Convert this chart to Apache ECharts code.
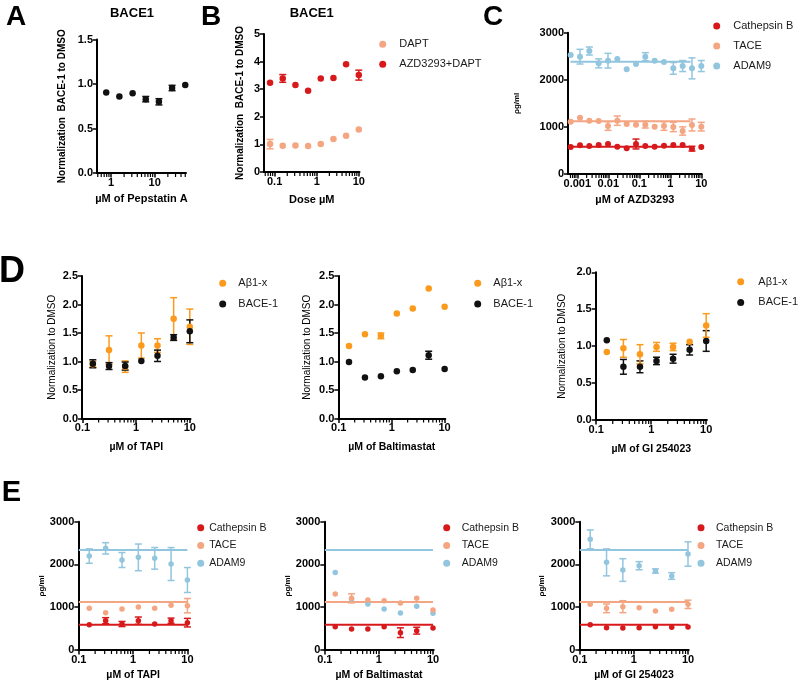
<!DOCTYPE html>
<html lang="en">
<head>
    <meta charset="UTF-8">
    <title>BACE1 / protease panels</title>
    <script src="https://cdn.jsdelivr.net/npm/echarts@6/dist/echarts.min.js"></script>
    <style>body{margin:0;background:#fff;}</style>
</head>
<body>
    <div id="main" style="width:800px;height:682px;"></div>
    <script type="text/javascript">
        // ---- data ----
        // A: Pepstatin A
        var pepDose = [0.78, 1.56, 3.13, 6.25, 12.5, 25, 50];
        var pepBace = [0.905, 0.86, 0.895, 0.83, 0.80, 0.955, 0.99];
        var pepBaceErr = [0, 0, 0, 0.03, 0.035, 0.03, 0];

        // B: DAPT
        var daptDose = [0.078, 0.156, 0.3125, 0.625, 1.25, 2.5, 5, 10];
        var dapt = [1.01, 0.95, 0.96, 0.94, 1.01, 1.20, 1.31, 1.54];
        var daptErr = [0.17, 0, 0, 0, 0, 0, 0, 0];
        var azdDapt = [3.23, 3.39, 3.15, 2.94, 3.39, 3.41, 3.90, 3.51];
        var azdDaptErr = [0, 0.14, 0, 0, 0, 0, 0, 0.18];

        // C: AZD3293
        var azdDose = [0.00061, 0.00122, 0.00244, 0.00488, 0.00977, 0.0195, 0.0391, 0.0781, 0.156, 0.3125, 0.625, 1.25, 2.5, 5, 10];
        var azdCath = [573, 609, 594, 616, 637, 580, 545, 637, 594, 580, 601, 616, 616, 538, 573];
        var azdCathErr = [0, 0, 0, 0, 0, 0, 0, 105, 0, 0, 0, 0, 0, 50, 0];
        var azdTace = [1111, 1196, 1132, 1125, 1019, 1132, 1061, 1047, 1047, 1005, 1019, 998, 913, 1040, 1005];
        var azdTaceErr = [0, 0, 0, 0, 92, 99, 0, 0, 71, 0, 92, 99, 88, 127, 92];
        var azdAdam = [2526, 2491, 2611, 2349, 2406, 2441, 2222, 2335, 2491, 2406, 2377, 2243, 2292, 2243, 2292];
        var azdAdamErr = [0, 156, 85, 95, 156, 0, 0, 0, 85, 0, 0, 124, 117, 223, 117];
        var fitSpanC = [0.0006, 4.5];
        var fitLevelsC = [580, 1118, 2384];   // Cathepsin B, TACE, ADAM9

        // D and E share the dose series
        var inhDose = [0.156, 0.3125, 0.625, 1.25, 2.5, 5, 10];

        // D: normalized Abeta / BACE-1
        var tapiAb = [0.95, 1.20, 0.91, 1.28, 1.28, 1.75, 1.61];
        var tapiAbErr = [0.05, 0.25, 0.10, 0.22, 0.12, 0.37, 0.31];
        var tapiBace = [0.96, 0.92, 0.92, 1.01, 1.10, 1.42, 1.53];
        var tapiBaceErr = [0.07, 0.06, 0.07, 0, 0.10, 0.05, 0.20];
        var baltAb = [1.27, 1.48, 1.45, 1.84, 1.93, 2.28, 1.96];
        var baltAbErr = [0, 0, 0.05, 0, 0, 0, 0];
        var baltBace = [0.99, 0.72, 0.74, 0.83, 0.85, 1.11, 0.87];
        var baltBaceErr = [0, 0, 0, 0, 0, 0.07, 0];
        var giAb = [0.92, 0.97, 0.89, 0.99, 0.99, 1.06, 1.28];
        var giAbErr = [0, 0.12, 0.13, 0.06, 0.05, 0, 0.16];
        var giBace = [1.08, 0.72, 0.72, 0.80, 0.83, 0.95, 1.07];
        var giBaceErr = [0, 0.10, 0.08, 0.05, 0.06, 0.07, 0.14];

        // E: pg/ml
        var tapiCath = [592, 686, 608, 686, 608, 686, 639];
        var tapiCathErr = [0, 70, 60, 85, 0, 60, 100];
        var tapiTace = [974, 873, 958, 1005, 974, 1044, 1036];
        var tapiTaceErr = [0, 0, 0, 0, 0, 0, 167];
        var tapiAdam = [2197, 2377, 2104, 2166, 2143, 2010, 1636];
        var tapiAdamErr = [168, 132, 175, 312, 253, 385, 292];
        var baltCath = [545, 491, 491, 545, 405, 452, 514];
        var baltCathErr = [0, 0, 0, 0, 113, 80, 0];
        var baltTace = [1309, 1208, 1169, 1153, 1099, 1208, 935];
        var baltTaceErr = [0, 105, 0, 0, 0, 0, 0];
        var baltAdam = [1815, 1190, 1075, 958, 865, 1021, 857];
        var baltAdamErr = [0, 0, 0, 0, 0, 0, 0];
        var giCath = [592, 522, 514, 522, 545, 530, 538];
        var giCathErr = [0, 0, 0, 0, 0, 0, 0];
        var giTace = [1068, 974, 1013, 990, 912, 951, 1068];
        var giTaceErr = [0, 101, 140, 0, 0, 0, 97];
        var giAdam = [2587, 2049, 1870, 1971, 1847, 1730, 2244];
        var giAdamErr = [220, 315, 265, 95, 50, 78, 284];
        var fitSpanE = [0.1, 10];
        var fitLevelsE = [590, 1125, 2338];

        var RED = '#d7191c', SALMON = '#f4a582', BLUE = '#92c5de', ORANGE = '#fb9a1c', BLACK = '#111';
        var FONT = '"Liberation Sans", Arial, sans-serif';

        // ---- panel layout ----
        var panels = [
            {box: [97, 39.5, 89, 133.5],     x: [0.48, 52],     y: [1.5, 0.5], dec: 1, xName: 'µM of Pepstatin A', xGap: 20, yName: 'Normalization  BACE-1 to DMSO', yGap: 30, yBold: true, yFs: 10},
            {box: [264, 34, 95.5, 138],      x: [0.056, 10.4],  y: [5, 1], dec: 0, xName: 'Dose µM', xGap: 22, yName: 'Normalization  BACE-1 to DMSO', yGap: 19, yBold: true, yFs: 10},
            {box: [568, 32.7, 133.7, 141.3], x: [0.0005, 10.3], y: [3000, 1000], dec: 0, xName: 'µM of AZD3293', xGap: 20, yName: 'ρg/ml', yGap: 47, yBold: true, yFs: 8},
            {box: [82, 276, 108.5, 142.5],   x: [0.098, 10.3],  y: [2.5, 0.5], dec: 1, xName: 'µM of TAPI', xGap: 23, yName: 'Normalization to DMSO', yGap: 25, yBold: false, yFs: 10},
            {box: [338.3, 276, 107, 142.5],  x: [0.098, 10.3],  y: [2.5, 0.5], dec: 1, xName: 'µM of Baltimastat', xGap: 23, yName: 'Normalization to DMSO', yGap: 26, yBold: false, yFs: 10},
            {box: [595.7, 272.3, 111.2, 147.7], x: [0.098, 10.3], y: [2.0, 0.5], dec: 1, xName: 'µM of GI 254023', xGap: 24, yName: 'Normalization to DMSO', yGap: 28, yBold: false, yFs: 10},
            {box: [78.3, 521.7, 109.8, 128.3],  x: [0.098, 10.3], y: [3000, 1000], dec: 0, xName: 'µM of TAPI', xGap: 20, yName: 'ρg/ml', yGap: 29.5, yBold: true, yFs: 8},
            {box: [324.3, 521.7, 109.4, 128.3], x: [0.098, 10.3], y: [3000, 1000], dec: 0, xName: 'µM of Baltimastat', xGap: 20, yName: 'ρg/ml', yGap: 32, yBold: true, yFs: 8},
            {box: [579.3, 521.7, 109.4, 128.3], x: [0.098, 10.3], y: [3000, 1000], dec: 0, xName: 'µM of GI 254023', xGap: 20, yName: 'ρg/ml', yGap: 33.5, yBold: true, yFs: 8}
        ];
        var N = panels.length;

        function decades(r) {
            var out = [];
            for (var e = Math.floor(Math.log10(r[0])); e <= Math.ceil(Math.log10(r[1])); e++) {
                var v = +Math.pow(10, e).toPrecision(1);
                if (v >= r[0] && v <= r[1]) out.push(v);
            }
            return out;
        }
        function minorTicks(r) {
            var out = [];
            for (var e = Math.floor(Math.log10(r[0])); e <= Math.ceil(Math.log10(r[1])); e++) {
                for (var m = 2; m <= 9; m++) {
                    var v = +(m * Math.pow(10, e)).toPrecision(2);
                    if (v > r[0] && v < r[1]) out.push(v);
                }
            }
            return out;
        }
        function fmtLog(v) { return String(+(+v).toPrecision(3)); }

        var grids = [], xAxes = [], yAxes = [];
        panels.forEach(function (p, i) {
            grids.push({left: p.box[0], top: p.box[1], width: p.box[2], height: p.box[3], containLabel: false, outerBoundsMode: 'none'});
            xAxes.push({
                type: 'log', gridIndex: i, min: p.x[0], max: p.x[1], position: 'bottom',
                name: p.xName, nameLocation: 'middle', nameGap: p.xGap,
                nameTextStyle: {color: '#000', fontFamily: FONT, fontWeight: 'bold', fontSize: i < 3 ? 11 : 10.5},
                axisLine: {onZero: false, lineStyle: {color: '#000', width: 2}},
                axisTick: {customValues: decades(p.x), length: 4.5, lineStyle: {color: '#000', width: 1.5}},
                axisLabel: {customValues: decades(p.x), formatter: fmtLog, margin: 4, color: '#000', fontFamily: FONT, fontWeight: 'bold', fontSize: 11},
                splitLine: {show: false}
            });
            yAxes.push({
                type: 'value', gridIndex: i, min: 0, max: p.y[0], interval: p.y[1],
                name: p.yName, nameLocation: 'middle', nameGap: p.yGap,
                nameTextStyle: {color: '#000', fontFamily: FONT, fontWeight: p.yBold ? 'bold' : 'normal', fontSize: p.yFs},
                axisLine: {show: true, onZero: false, lineStyle: {color: '#000', width: 2}},
                axisTick: {show: true, length: 4, lineStyle: {color: '#000', width: 1.5}},
                axisLabel: {margin: 4, color: '#000', fontFamily: FONT, fontWeight: 'bold', fontSize: 11,
                    formatter: (function (d) { return function (v) { return v.toFixed(d); }; })(p.dec)},
                splitLine: {show: false}
            });
        });
        // thin strip under each plot, sharing its log x scale, to hold the log minor ticks
        panels.forEach(function (p, i) {
            grids.push({left: p.box[0], top: p.box[1] + p.box[3], width: p.box[2], height: 6, containLabel: false, outerBoundsMode: 'none'});
            xAxes.push({type: 'log', gridIndex: N + i, min: p.x[0], max: p.x[1], show: false});
            yAxes.push({type: 'value', gridIndex: N + i, min: 0, max: 1, show: false});
        });

        function pairs(xs, ys) { return xs.map(function (x, k) { return [x, ys[k]]; }); }
        function errRows(xs, ys, es) {
            var out = [];
            xs.forEach(function (x, k) { if (es[k] > 0) out.push([x, ys[k] - es[k], ys[k] + es[k]]); });
            return out;
        }
        function errBar(params, api) {
            var x = api.value(0);
            var lo = api.coord([x, api.value(1)]);
            var hi = api.coord([x, api.value(2)]);
            var c = 3.5;
            var st = {stroke: api.visual('color'), lineWidth: 1.5};
            return {type: 'group', children: [
                {type: 'line', shape: {x1: lo[0], y1: lo[1], x2: hi[0], y2: hi[1]}, style: st},
                {type: 'line', shape: {x1: lo[0] - c, y1: lo[1], x2: lo[0] + c, y2: lo[1]}, style: st},
                {type: 'line', shape: {x1: hi[0] - c, y1: hi[1], x2: hi[0] + c, y2: hi[1]}, style: st}
            ]};
        }
        function minorTick(params, api) {
            var p = api.coord([api.value(0), api.value(1)]);
            return {type: 'group', children: [
                {type: 'line', shape: {x1: p[0], y1: p[1], x2: p[0], y2: p[1] + 4},
                    style: {stroke: api.visual('color'), lineWidth: 1.2}}
            ]};
        }

        var series = [];
        panels.forEach(function (p, i) {
            series.push({type: 'custom', name: 'minor ticks', xAxisIndex: N + i, yAxisIndex: N + i, silent: true,
                renderItem: minorTick, itemStyle: {color: '#000'}, encode: {x: 0, y: [1, 2]},
                data: minorTicks(p.x).map(function (v) { return [v, 1, 1]; })});
        });
        function addPoints(i, name, color, xs, ys, es, size) {
            series.push({type: 'custom', name: name + ' err', xAxisIndex: i, yAxisIndex: i, renderItem: errBar,
                itemStyle: {color: color}, encode: {x: 0, y: [1, 2]}, data: errRows(xs, ys, es), z: 2, silent: true});
            series.push({type: 'scatter', name: name, xAxisIndex: i, yAxisIndex: i, symbol: 'circle', symbolSize: size,
                itemStyle: {color: color, opacity: 1}, data: pairs(xs, ys), z: 3, silent: true});
        }
        function addFit(i, color, span, level) {
            series.push({type: 'line', name: 'fit', xAxisIndex: i, yAxisIndex: i, symbol: 'none', silent: true,
                lineStyle: {color: color, width: 2}, data: [[span[0], level], [span[1], level]], z: 1});
        }

        // A
        addPoints(0, 'BACE1', BLACK, pepDose, pepBace, pepBaceErr, 6.5);
        // B
        addPoints(1, 'DAPT', SALMON, daptDose, dapt, daptErr, 6.5);
        addPoints(1, 'AZD3293+DAPT', RED, daptDose, azdDapt, azdDaptErr, 6.5);
        // C
        addFit(2, RED, fitSpanC, fitLevelsC[0]);
        addFit(2, SALMON, fitSpanC, fitLevelsC[1]);
        addFit(2, BLUE, fitSpanC, fitLevelsC[2]);
        addPoints(2, 'ADAM9', BLUE, azdDose, azdAdam, azdAdamErr, 6);
        addPoints(2, 'TACE', SALMON, azdDose, azdTace, azdTaceErr, 6);
        addPoints(2, 'Cathepsin B', RED, azdDose, azdCath, azdCathErr, 6);
        // D
        addPoints(3, 'Aβ1-x', ORANGE, inhDose, tapiAb, tapiAbErr, 6.5);
        addPoints(3, 'BACE-1', BLACK, inhDose, tapiBace, tapiBaceErr, 6.5);
        addPoints(4, 'Aβ1-x', ORANGE, inhDose, baltAb, baltAbErr, 6.5);
        addPoints(4, 'BACE-1', BLACK, inhDose, baltBace, baltBaceErr, 6.5);
        addPoints(5, 'BACE-1', BLACK, inhDose, giBace, giBaceErr, 6.5);
        addPoints(5, 'Aβ1-x', ORANGE, inhDose, giAb, giAbErr, 6.5);
        // E
        [[6, tapiAdam, tapiAdamErr, tapiTace, tapiTaceErr, tapiCath, tapiCathErr],
         [7, baltAdam, baltAdamErr, baltTace, baltTaceErr, baltCath, baltCathErr],
         [8, giAdam, giAdamErr, giTace, giTaceErr, giCath, giCathErr]].forEach(function (r) {
            addFit(r[0], RED, fitSpanE, fitLevelsE[0]);
            addFit(r[0], SALMON, fitSpanE, fitLevelsE[1]);
            addFit(r[0], BLUE, fitSpanE, fitLevelsE[2]);
            addPoints(r[0], 'ADAM9', BLUE, inhDose, r[1], r[2], 5.5);
            addPoints(r[0], 'TACE', SALMON, inhDose, r[3], r[4], 5.5);
            addPoints(r[0], 'Cathepsin B', RED, inhDose, r[5], r[6], 5.5);
        });

        // legend box is aligned on the circle's left edge; circle is centred in itemWidth,
        // text starts itemWidth + 5 after the box start
        function legendAt(names, dotX, top, textX, gap, fs) {
            var left = dotX - 3.5;
            return {data: names, orient: 'vertical', left: left, top: top, padding: 0,
                itemWidth: Math.max(7, 2 * (textX - left - 8.5)), itemHeight: 7,
                itemGap: gap, icon: 'circle', selectedMode: false,
                textStyle: {color: '#1a1a1a', fontFamily: FONT, fontSize: fs, lineHeight: 14}};
        }
        var protNames = ['Cathepsin B', 'TACE', 'ADAM9'];
        var dNames = ['Aβ1-x', 'BACE-1'];
        var legends = [
            legendAt(['DAPT', 'AZD3293+DAPT'], 382.7, 37.3, 399.3, 6, 11),
            legendAt(protNames, 716.7, 19, 733.3, 6, 11),
            legendAt(dNames, 222.7, 276.3, 238.3, 6.7, 11),
            legendAt(dNames, 477.7, 276.3, 493.3, 6.7, 11),
            legendAt(dNames, 740.7, 274.7, 758.3, 6.7, 11),
            legendAt(protNames, 200.7, 520.7, 207, 3.8, 10.5),
            legendAt(protNames, 446.7, 520.7, 461.7, 3.8, 10.5),
            legendAt(protNames, 701, 520.7, 716, 3.8, 10.5)
        ];

        function label(text, x, y, size) {
            return {type: 'text', x: x, y: y, silent: true,
                style: {text: text, textAlign: 'center', textVerticalAlign: 'middle', fill: '#000',
                    font: 'bold ' + size + 'px ' + FONT}};
        }
        var graphics = [
            label('A', 16, 17, 28), label('B', 211, 17, 28), label('C', 493, 17.5, 28),
            label('D', 12, 272, 36), label('E', 11.5, 492.5, 29),
            label('BACE1', 132, 13, 13), label('BACE1', 311.7, 13, 13)
        ];

        var chart = echarts.init(document.getElementById('main'), null, {renderer: 'canvas'});
        chart.setOption({
            backgroundColor: '#fff',
            animation: false,
            grid: grids,
            xAxis: xAxes,
            yAxis: yAxes,
            legend: legends,
            graphic: graphics,
            series: series
        });
    </script>
</body>
</html>
